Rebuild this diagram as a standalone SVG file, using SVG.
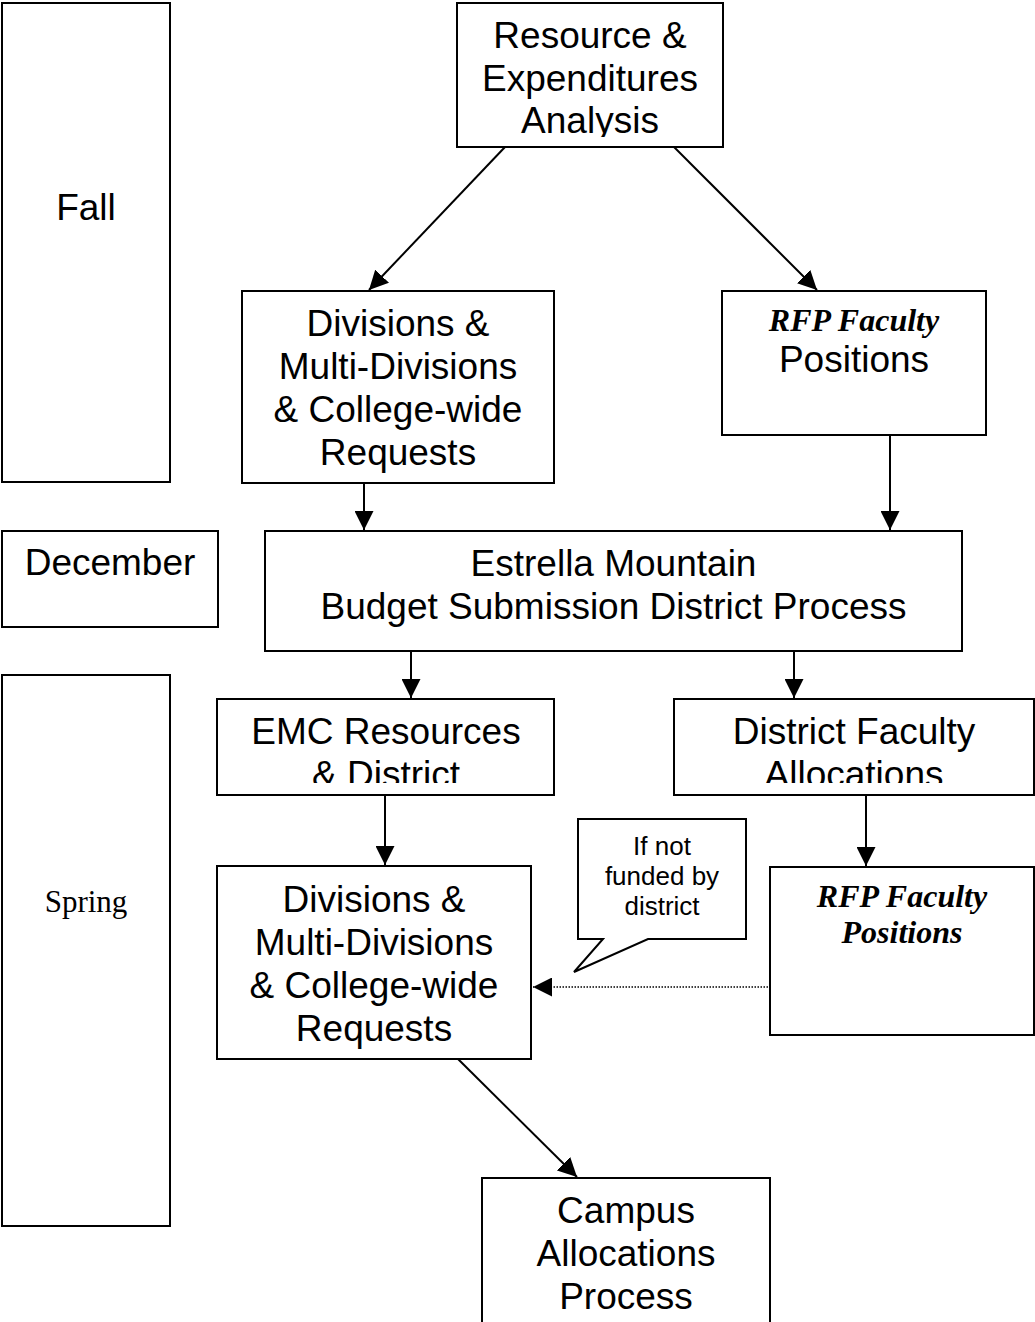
<svg xmlns="http://www.w3.org/2000/svg" width="1035" height="1322" viewBox="0 0 1035 1322">
<style>
.box{fill:#fff;stroke:#000;stroke-width:2}
.t{font-family:"Liberation Sans",Arial,sans-serif;font-size:37px;fill:#000;text-anchor:middle}
.s{font-family:"Liberation Sans",Arial,sans-serif;font-size:26px;fill:#000;text-anchor:middle}
.ser{font-family:"Liberation Serif","Times New Roman",serif;font-size:31px;fill:#000;text-anchor:middle}
.bi{font-family:"Liberation Serif","Times New Roman",serif;font-size:32px;font-weight:bold;font-style:italic;fill:#000;text-anchor:middle}
.c{stroke:#000;stroke-width:2;fill:none}
.dot{stroke:#000;stroke-width:1.5;fill:none;stroke-dasharray:1.5 1.5}
</style>
<defs>
<marker id="ahb" viewBox="0 0 10 10" refX="10" refY="5" markerWidth="19" markerHeight="19" markerUnits="userSpaceOnUse" orient="auto">
<path d="M0,0 L10,5 L0,10 Z" fill="#000"/>
</marker>
<clipPath id="clipTop"><rect x="457" y="3" width="266" height="134"/></clipPath>
<clipPath id="clipEMC"><rect x="217" y="699" width="337" height="84"/></clipPath>
<clipPath id="clipDF"><rect x="674" y="699" width="360" height="84"/></clipPath>
</defs>

<g id="fall">
<rect class="box" x="2" y="3" width="168" height="479"/>
<text class="t" x="86" y="220">Fall</text>
</g>

<g id="december">
<rect class="box" x="2" y="531" width="216" height="96"/>
<text class="t" x="110" y="575">December</text>
</g>

<g id="spring">
<rect class="box" x="2" y="675" width="168" height="551"/>
<text class="ser" x="86" y="912">Spring</text>
</g>

<g id="resource">
<rect class="box" x="457" y="3" width="266" height="144"/>
<g clip-path="url(#clipTop)">
<text class="t" x="590" y="48">Resource &amp;</text>
<text class="t" x="590" y="91">Expenditures</text>
<text class="t" x="590" y="133">Analysis</text>
</g>
</g>

<g id="divisions-fall">
<rect class="box" x="242" y="291" width="312" height="192"/>
<text class="t" x="398" y="336">Divisions &amp;</text>
<text class="t" x="398" y="379">Multi-Divisions</text>
<text class="t" x="398" y="422">&amp; College-wide</text>
<text class="t" x="398" y="465">Requests</text>
</g>

<g id="rfp-fall">
<rect class="box" x="722" y="291" width="264" height="144"/>
<text class="bi" x="854" y="331">RFP Faculty</text>
<text class="t" x="854" y="372">Positions</text>
</g>

<g id="estrella">
<rect class="box" x="265" y="531" width="697" height="120"/>
<text class="t" x="613.5" y="576">Estrella Mountain</text>
<text class="t" x="613.5" y="619">Budget Submission District Process</text>
</g>

<g id="emc">
<rect class="box" x="217" y="699" width="337" height="96"/>
<g clip-path="url(#clipEMC)">
<text class="t" x="386" y="744">EMC Resources</text>
<text class="t" x="386" y="787">&amp; District</text>
</g>
</g>

<g id="district-faculty">
<rect class="box" x="674" y="699" width="360" height="96"/>
<g clip-path="url(#clipDF)">
<text class="t" x="854" y="744">District Faculty</text>
<text class="t" x="854" y="787">Allocations</text>
</g>
</g>

<g id="divisions-spring">
<rect class="box" x="217" y="866" width="314" height="193"/>
<text class="t" x="374" y="912">Divisions &amp;</text>
<text class="t" x="374" y="955">Multi-Divisions</text>
<text class="t" x="374" y="998">&amp; College-wide</text>
<text class="t" x="374" y="1041">Requests</text>
</g>

<g id="callout">
<path class="box" d="M578,819 L746,819 L746,939 L648,939 L574,972 L603,939 L578,939 Z"/>
<text class="s" x="662" y="855">If not</text>
<text class="s" x="662" y="885">funded by</text>
<text class="s" x="662" y="915">district</text>
</g>

<g id="rfp-spring">
<rect class="box" x="770" y="867" width="264" height="168"/>
<text class="bi" x="902" y="907">RFP Faculty</text>
<text class="bi" x="902" y="943">Positions</text>
</g>

<g id="campus">
<rect class="box" x="482" y="1178" width="288" height="160"/>
<text class="t" x="626" y="1223">Campus</text>
<text class="t" x="626" y="1266">Allocations</text>
<text class="t" x="626" y="1309">Process</text>
</g>

<g id="connectors">
<line class="c" x1="505" y1="147" x2="369" y2="290" marker-end="url(#ahb)"/>
<line class="c" x1="674" y1="147" x2="817" y2="290" marker-end="url(#ahb)"/>
<line class="c" x1="364" y1="483" x2="364" y2="530" marker-end="url(#ahb)"/>
<line class="c" x1="890" y1="435" x2="890" y2="530" marker-end="url(#ahb)"/>
<line class="c" x1="411" y1="651" x2="411" y2="698" marker-end="url(#ahb)"/>
<line class="c" x1="794" y1="651" x2="794" y2="698" marker-end="url(#ahb)"/>
<line class="c" x1="385" y1="795" x2="385" y2="865" marker-end="url(#ahb)"/>
<line class="c" x1="866" y1="795" x2="866" y2="866" marker-end="url(#ahb)"/>
<line class="dot" x1="768" y1="987" x2="533" y2="987" marker-end="url(#ahb)"/>
<line class="c" x1="458" y1="1059" x2="577" y2="1177" marker-end="url(#ahb)"/>
</g>
</svg>
